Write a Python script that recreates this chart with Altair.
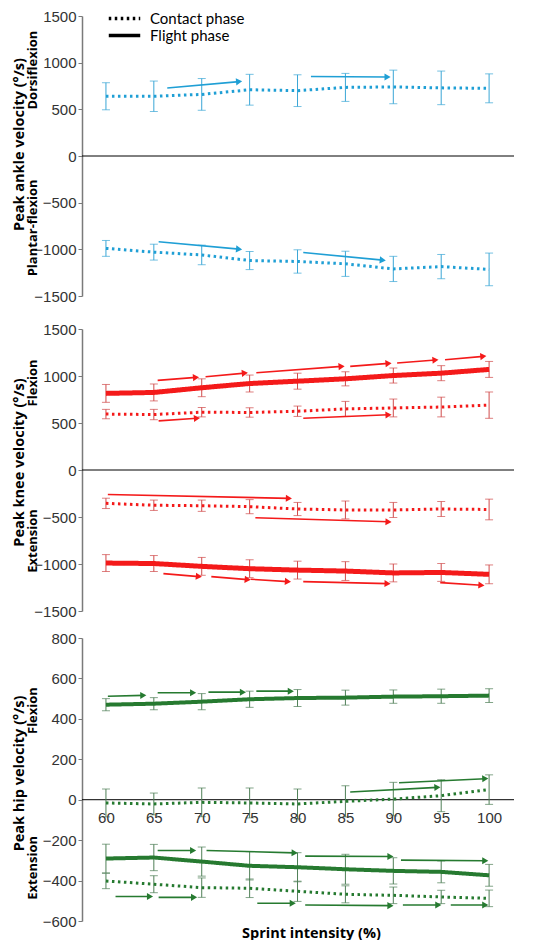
import math
import altair as alt
import pandas as pd

# ---------------- data ----------------
intensity = [60, 65, 70, 75, 80, 85, 90, 95, 100]

# Ankle (contact phase only)
ankle_contact_dorsi_mean = [640, 640, 660, 710, 700, 735, 740, 730, 725]
ankle_contact_dorsi_sd = [145, 163, 170, 165, 170, 150, 180, 180, 155]
ankle_contact_plantar_mean = [-990, -1030, -1060, -1120, -1130, -1155, -1210, -1185, -1215]
ankle_contact_plantar_sd = [85, 85, 105, 97, 125, 135, 135, 130, 175]

# Knee
knee_flight_flex_mean = [815, 825, 875, 920, 945, 970, 1005, 1030, 1070]
knee_flight_flex_sd = [95, 90, 95, 90, 85, 75, 80, 80, 85]
knee_contact_flex_mean = [595, 590, 615, 612, 625, 650, 660, 670, 690]
knee_contact_flex_sd = [50, 55, 50, 50, 55, 80, 95, 105, 140]
knee_contact_ext_mean = [-355, -375, -380, -390, -415, -425, -425, -415, -420]
knee_contact_ext_sd = [55, 55, 60, 75, 70, 95, 80, 80, 110]
knee_flight_ext_mean = [-990, -995, -1025, -1050, -1065, -1075, -1095, -1090, -1110]
knee_flight_ext_sd = [90, 85, 95, 95, 95, 100, 95, 95, 100]

# Hip
hip_flight_flex_mean = [470, 475, 485, 497, 503, 505, 510, 512, 515]
hip_flight_flex_sd = [30, 30, 40, 40, 42, 37, 33, 35, 34]
hip_contact_flex_mean = [-16, -21, -13, -16, -21, -8, 3, 20, 50]
hip_contact_flex_sd = [69, 54, 71, 74, 74, 77, 83, 79, 73]
hip_flight_ext_mean = [-291, -286, -306, -327, -334, -344, -352, -357, -374]
hip_flight_ext_sd = [71, 65, 72, 70, 72, 74, 65, 54, 54]
hip_contact_ext_mean = [-402, -418, -435, -438, -453, -468, -473, -481, -488]
hip_contact_ext_sd = [38, 42, 48, 46, 50, 42, 41, 33, 41]

# Significance arrows (start x, end x, start y, end y)
ankle_arrow_x = [66.4, 81.4, 65.5, 80.6]
ankle_arrow_x2 = [73.9, 89.4, 73.9, 88.9]
ankle_arrow_y = [729, 851, -919, -1034]
ankle_arrow_y2 = [797, 847, -998, -1116]

knee_arrow_x = [65.4, 70.4, 75.7, 85.5, 90.4, 95.4, 65.5, 80.6, 60.2, 75.6, 66.0, 71.0, 75.1, 80.6, 94.9]
knee_arrow_x2 = [69.4, 74.5, 84.6, 89.5, 94.4, 99.4, 69.5, 89.5, 79.1, 89.5, 69.7, 74.8, 79.0, 89.4, 99.2]
knee_arrow_y = [953, 992, 1035, 1102, 1138, 1173, 523, 551, -260, -508, -1102, -1134, -1162, -1187, -1198]
knee_arrow_y2 = [985, 1031, 1102, 1134, 1170, 1209, 551, 587, -302, -551, -1134, -1166, -1187, -1209, -1226]

hip_arrow_x = [60.2, 65.4, 70.7, 75.7, 85.5, 90.6, 65.4, 70.5, 80.8, 90.8, 61.0, 65.5, 75.8, 80.8, 91.0, 96.0]
hip_arrow_x2 = [63.9, 69.1, 74.3, 79.3, 94.6, 99.6, 69.1, 79.7, 89.7, 99.6, 64.6, 69.2, 79.5, 89.7, 94.7, 99.6]
hip_arrow_y = [512, 529, 532, 537, 38, 84, -251, -251, -279, -299, -479, -483, -512, -521, -521, -521]
hip_arrow_y2 = [516, 529, 532, 537, 61, 104, -251, -263, -281, -302, -479, -483, -512, -524, -521, -521]

phases = ["Contact phase", "Flight phase"]

# ---------------- styling ----------------
X_DOMAIN = [57.5, 102.6]
W = 432
LABEL_FONT = "Liberation Sans"
TITLE_FONT = "Open Sans"
DOT = [2.5, 3.5]


def series_df(items):
    rows = []
    for phase, direction, means, sds in items:
        for x, m, s in zip(intensity, means, sds):
            rows.append(dict(intensity=x, mean=m, lo=m - s, hi=m + s,
                             phase=phase, direction=direction))
    return pd.DataFrame(rows)


def arrows_df(xs, x2s, ys, y2s, ydom, h):
    sx = W / (X_DOMAIN[1] - X_DOMAIN[0])
    sy = h / (ydom[1] - ydom[0])
    ang = [math.degrees(math.atan2(-(b2 - b) * sy, (a2 - a) * sx)) % 360
           for a, a2, b, b2 in zip(xs, x2s, ys, y2s)]
    return pd.DataFrame(dict(x=xs, x2=x2s, y=ys, y2=y2s, angle=ang))


def panel(df, arr, color, errcolor, ydom, yticks, h, title, title_y,
          sublabels, flight_w, x_axis, legend):
    xsc = alt.Scale(domain=X_DOMAIN, nice=False, zero=False)
    ysc = alt.Scale(domain=ydom, nice=False, zero=False)
    yaxis = alt.Axis(values=yticks, format="d", title=title, titleX=-63, titleY=title_y,
                     titleAngle=270, titleAlign="center", titleBaseline="middle",
                     grid=False)

    def X(f):
        return alt.X(f, type="quantitative", scale=xsc, axis=x_axis)

    def Y(f):
        return alt.Y(f, type="quantitative", scale=ysc, axis=yaxis)

    dash = alt.StrokeDash("phase:N",
                          scale=alt.Scale(domain=phases, range=[DOT, [1, 0]]),
                          legend=legend)

    zero = alt.Chart(pd.DataFrame({"zero": [0]})).mark_rule(
        color="black", strokeWidth=1).encode(y=Y("zero"))

    err = alt.Chart(df).mark_errorbar(ticks=True, size=8, thickness=1,
                                      color=errcolor).encode(
        x=X("intensity"), y=Y("lo"), y2="hi")

    layers = [zero, err]
    contact = df[df.phase == "Contact phase"]
    flight = df[df.phase == "Flight phase"]
    layers.append(alt.Chart(contact).mark_line(color=color, strokeWidth=3).encode(
        x=X("intensity"), y=Y("mean"), detail="direction:N", strokeDash=dash))
    if len(flight):
        layers.append(alt.Chart(flight).mark_line(color=color, strokeWidth=flight_w).encode(
            x=X("intensity"), y=Y("mean"), detail="direction:N", strokeDash=dash))

    layers.append(alt.Chart(arr).mark_rule(color=color, strokeWidth=1.6).encode(
        x=X("x"), y=Y("y"), x2="x2", y2="y2"))
    layers.append(alt.Chart(arr).mark_point(shape="triangle-right", filled=True,
                                            size=50, opacity=1, color=color).encode(
        x=X("x2"), y=Y("y2"), angle=alt.Angle("angle:Q", scale=None)))

    sub = pd.DataFrame(dict(label=[s[0] for s in sublabels],
                            y=[s[1] for s in sublabels]))
    layers.append(alt.Chart(sub).mark_text(angle=270, font=TITLE_FONT, fontWeight="bold",
                                           fontSize=13, color="black").encode(
        x=alt.value(-49), y=Y("y"), text="label:N"))

    return alt.layer(*layers).properties(width=W, height=h)


# ---------------- panels ----------------
H1, H2, H3 = 280, 282, 283

ankle_df = series_df([
    ("Contact phase", "dorsi", ankle_contact_dorsi_mean, ankle_contact_dorsi_sd),
    ("Contact phase", "plantar", ankle_contact_plantar_mean, ankle_contact_plantar_sd),
])
knee_df = series_df([
    ("Flight phase", "flex", knee_flight_flex_mean, knee_flight_flex_sd),
    ("Contact phase", "flex", knee_contact_flex_mean, knee_contact_flex_sd),
    ("Contact phase", "ext", knee_contact_ext_mean, knee_contact_ext_sd),
    ("Flight phase", "ext", knee_flight_ext_mean, knee_flight_ext_sd),
])
hip_df = series_df([
    ("Flight phase", "flex", hip_flight_flex_mean, hip_flight_flex_sd),
    ("Contact phase", "flex", hip_contact_flex_mean, hip_contact_flex_sd),
    ("Flight phase", "ext", hip_flight_ext_mean, hip_flight_ext_sd),
    ("Contact phase", "ext", hip_contact_ext_mean, hip_contact_ext_sd),
])

legend = alt.Legend(orient="none", legendX=35, legendY=-5, title=None,
                    symbolType="M-3,0H3", symbolSize=110, symbolStrokeWidth=3.5,
                    symbolStrokeColor="black", labelFont="Lato", labelFontSize=15,
                    labelColor="black", labelOffset=18, rowPadding=1)

ankle = panel(ankle_df,
              arrows_df(ankle_arrow_x, ankle_arrow_x2, ankle_arrow_y, ankle_arrow_y2, [-1500, 1500], H1),
              "#1f9fd5", "#3aa6d6", [-1500, 1500], [-1500, -1000, -500, 0, 500, 1000, 1500],
              H1, "Peak ankle velocity (°/s)", 128,
              [("Dorsiflexion", 920), ("Plantar-flexion", -770)], 4, None, legend)

knee = panel(knee_df,
             arrows_df(knee_arrow_x, knee_arrow_x2, knee_arrow_y, knee_arrow_y2, [-1500, 1500], H2),
             "#f41a1a", "#d04a4a", [-1500, 1500], [-1500, -1000, -500, 0, 500, 1000, 1500],
             H2, "Peak knee velocity (°/s)", 133,
             [("Flexion", 926), ("Extension", -755)], 5, None, None)

hip_zero_from_bottom = H3 * (0 - (-600)) / (800 - (-600))
hip_xaxis = alt.Axis(values=intensity, domain=False, ticks=False, tickSize=0,
                     labelPadding=11, offset=-hip_zero_from_bottom, grid=False,
                     title="Sprint intensity (%)", titleX=229,
                     titleY=hip_zero_from_bottom + 12, titleBaseline="middle",
                     titleAlign="center", zindex=1)
hip = panel(hip_df,
            arrows_df(hip_arrow_x, hip_arrow_x2, hip_arrow_y, hip_arrow_y2, [-600, 800], H3),
            "#267a30", "#4f7f57", [-600, 800], [-600, -400, -200, 0, 200, 400, 600, 800],
            H3, "Peak hip velocity (°/s)", 135,
            [("Flexion", 441), ("Extension", -337)], 4, hip_xaxis, None)

top = alt.vconcat(ankle, knee, spacing=18).resolve_scale(strokeDash="independent").resolve_legend(strokeDash="independent")
chart = alt.vconcat(top, hip, spacing=12).resolve_scale(
    strokeDash="independent").resolve_legend(strokeDash="independent").properties(
    padding={"left": 3, "top": 1, "right": 5, "bottom": 0}
).configure_view(stroke=None).configure_axis(
    labelFont=LABEL_FONT, labelFontSize=15, labelColor="#333333",
    titleFont=TITLE_FONT, titleFontSize=14.5, titleFontWeight="bold", titleColor="black",
    domainColor="#7a7a7a", domainWidth=1.5, tickColor="#7a7a7a", tickSize=4,
    labelPadding=2,
)

chart.save("out.html", embed_options={"renderer": "svg", "actions": False})
